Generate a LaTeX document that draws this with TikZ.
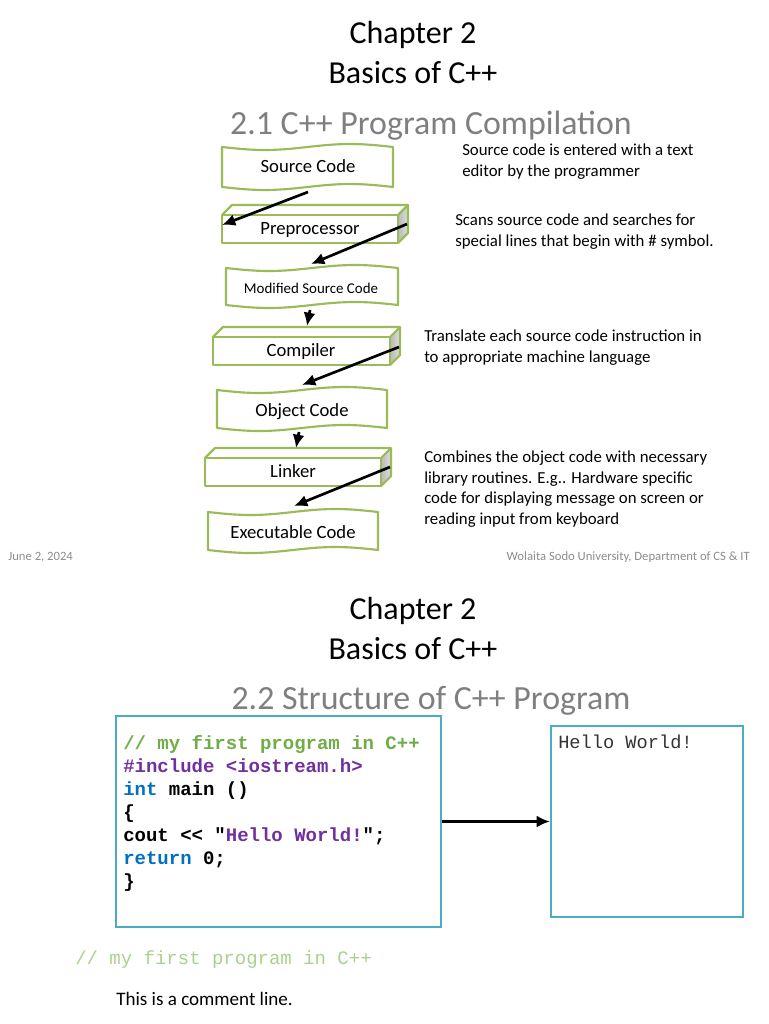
\documentclass[tikz,border=0pt]{standalone}
\usepackage{fontspec}
\setmainfont{Carlito}
\newfontfamily\codefont{Liberation Mono}
\usetikzlibrary{arrows.meta}
\definecolor{boxgreen}{HTML}{9BBB59}
\definecolor{codegreen}{HTML}{70AD47}
\definecolor{lightgreen}{HTML}{A9D18E}
\definecolor{codepurple}{HTML}{7030A0}
\definecolor{codeblue}{HTML}{0070C0}
\definecolor{boxblue}{HTML}{4BACC6}
\definecolor{titlegray}{HTML}{7F7F7F}
\definecolor{footgray}{HTML}{8C8C8C}
\newcommand\tapeshape[4]{% x0, x1, ytop, ybot
  \pgfmathsetmacro\tpA{#1+(#2-#1)/4}%
  \pgfmathsetmacro\tpB{#1+(#2-#1)/2}%
  \pgfmathsetmacro\tpC{#1+3*(#2-#1)/4}%
  \pgfmathsetmacro\tpTd{#3+3}\pgfmathsetmacro\tpTu{#3-3}%
  \pgfmathsetmacro\tpBd{#4+3}\pgfmathsetmacro\tpBu{#4-3}%
  \draw[shapeline,fill=white] (#1,#3) sin (\tpA,\tpTd) cos (\tpB,#3) sin (\tpC,\tpTu) cos (#2,#3)
    -- (#2,#4) sin (\tpC,\tpBu) cos (\tpB,#4) sin (\tpA,\tpBd) cos (#1,#4) -- cycle;}
\newcommand\cuboidshape[4]{% x0, x1, ytop, ybot ; depth 10
  \pgfmathsetmacro\cbX{#2+10}\pgfmathsetmacro\cbL{#1+10}%
  \pgfmathsetmacro\cbT{#3-10}\pgfmathsetmacro\cbB{#4-10}%
  \fill[left color=gray!55,right color=gray!25] (#2,#3) -- (\cbX,\cbT) -- (\cbX,\cbB) -- (#2,#4) -- cycle;
  \draw[shapeline] (#1,#3) rectangle (#2,#4);
  \draw[shapeline] (#1,#3) -- (\cbL,\cbT) -- (\cbX,\cbT) -- (\cbX,\cbB) -- (#2,#4);
  \draw[shapeline] (\cbX,\cbT) -- (#2,#3);}
\tikzset{
  shapeline/.style={draw=boxgreen,line width=1.6pt,line join=round},
  flowarrow/.style={line width=2pt,-{Latex[length=10pt,width=9pt]}},
  bigtitle/.style={anchor=base,font=\fontsize{24}{28}\selectfont,inner sep=0pt},
  subtitle/.style={anchor=base,font=\fontsize{25.4}{30}\selectfont,text=titlegray,inner sep=0pt},
  boxtext/.style={anchor=base,font=\fontsize{14}{17}\selectfont,inner sep=0pt},
  note/.style={anchor=base west,font=\fontsize{12.6}{15}\selectfont,inner sep=0pt},
  foot/.style={font=\fontsize{9.5}{11}\selectfont,text=footgray,inner sep=0pt},
  codeline/.style={anchor=base west,font=\codefont\bfseries\fontsize{14.25}{17}\selectfont,inner sep=0pt},
  codebox/.style={draw=boxblue,line width=1.6pt,inner sep=0pt},
}
\begin{document}
\begin{tikzpicture}[x=0.75pt,y=-0.75pt]
\useasboundingbox (0,0) rectangle (768,1024);
% ---------- slide 1 ----------
\node[bigtitle] (t1) at (413,44) {Chapter 2};
\node[bigtitle] (t2) at (413,84) {Basics of C++};
\node[subtitle] (t3) at (431,134) {2.1 C++ Program Compilation};

\tapeshape{222}{393}{147}{187}
\node[boxtext] (src) at (308,172) {Source Code};
\cuboidshape{222}{398}{215}{243}
\node[boxtext] (pre) at (310,234) {Preprocessor};
\tapeshape{226}{398}{268}{305}
\node[boxtext,font=\fontsize{11.2}{13}\selectfont] (mod) at (311,293) {Modified Source Code};
\cuboidshape{213}{390}{337}{365}
\node[boxtext] (comp) at (301,356) {Compiler};
\tapeshape{217}{387}{390}{428}
\node[boxtext] (obj) at (302,416) {Object Code};
\cuboidshape{205}{381}{458}{486}
\node[boxtext] (link) at (293,477) {Linker};
\tapeshape{208}{378}{512}{550}
\node[boxtext] (exe) at (293,538) {Executable Code};

\coordinate (a1s) at (308,192); \coordinate (a1e) at (222,225);
\coordinate (a2s) at (407,224); \coordinate (a2e) at (311,264);
\coordinate (a3s) at (310,310); \coordinate (a3e) at (307,326);
\coordinate (a4s) at (399,347); \coordinate (a4e) at (302,385);
\coordinate (a5s) at (299,432); \coordinate (a5e) at (296,448);
\coordinate (a6s) at (390,467); \coordinate (a6e) at (294,506);
\draw[flowarrow] (a1s) -- (a1e);
\draw[flowarrow] (a2s) -- (a2e);
\draw[flowarrow] (a3s) -- (a3e);
\draw[flowarrow] (a4s) -- (a4e);
\draw[flowarrow] (a5s) -- (a5e);
\draw[flowarrow] (a6s) -- (a6e);

\node[note] (n1a) at (462,155) {Source code is entered with a text};
\node[note] (n1b) at (462,176) {editor by the programmer};
\node[note] (n2a) at (455,225) {Scans source code and searches for};
\node[note] (n2b) at (455,246) {special lines that begin with \# symbol.};
\node[note] (n3a) at (424,341) {Translate each source code instruction in};
\node[note] (n3b) at (424,362) {to appropriate machine language};
\node[note] (n4a) at (424,462) {Combines the object code with necessary};
\node[note] (n4b) at (424,483) {library routines. E.g.. Hardware specific};
\node[note] (n4c) at (424,503) {code for displaying message on screen or};
\node[note] (n4d) at (424,524) {reading input from keyboard};

\node[foot,anchor=base west] (date) at (8,560) {June 2, 2024};
\node[foot,anchor=base east] (uni) at (750,560) {Wolaita Sodo University, Department of CS \& IT};

% ---------- slide 2 ----------
\node[bigtitle] (t4) at (413,619) {Chapter 2};
\node[bigtitle] (t5) at (413,659) {Basics of C++};
\node[subtitle] (t6) at (431,709) {2.2 Structure of C++ Program};

\node[codebox,minimum width=325*0.75pt,minimum height=211*0.75pt] (code) at (278.5,821.5) {};
\node[codebox,minimum width=192*0.75pt,minimum height=191*0.75pt] (out) at (647,821.5) {};
\draw[flowarrow] (code.east) -- (out.west);

\node[codeline,text=codegreen] (c1) at (123,749) {// my first program in C++};
\node[codeline,text=codepurple] (c2) at (123,772) {\#include <iostream.h>};
\node[codeline] (c3) at (123,795) {\textcolor{codeblue}{int} main ()};
\node[codeline] (c4) at (123,818) {\{};
\node[codeline] (c5) at (123,841) {cout << "\textcolor{codepurple}{Hello World!}";};
\node[codeline] (c6) at (123,864) {\textcolor{codeblue}{return} 0;};
\node[codeline] (c7) at (123,887) {\}};

\node[anchor=base west,inner sep=0pt,font=\codefont\fontsize{14}{17}\selectfont,text=black!80] (hw) at (558,748) {Hello World!};

\node[anchor=base west,inner sep=0pt,font=\codefont\fontsize{14.25}{17}\selectfont,text=lightgreen] (cm) at (75,964) {// my first program in C++};
\node[anchor=base west,inner sep=0pt,font=\fontsize{14.3}{17}\selectfont] (cl) at (116,1005) {This is a comment line.};
\end{tikzpicture}
\end{document}
